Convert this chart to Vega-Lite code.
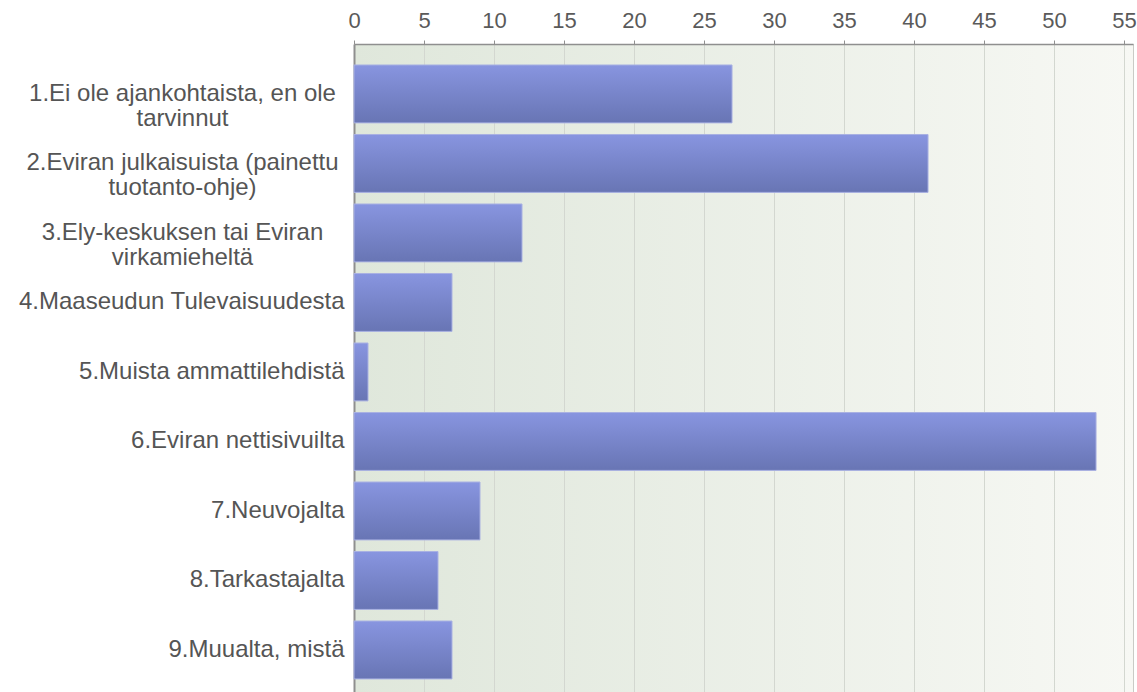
{
  "$schema": "https://vega.github.io/schema/vega-lite/v6.json",
  "width": 779,
  "height": 648,
  "autosize": "none",
  "padding": {"left": 354, "top": 44, "right": 4, "bottom": 0},
  "background": "white",
  "config": {
    "view": {
      "fill": {"gradient": "linear", "x1": 0, "y1": 0, "x2": 1, "y2": 0, "stops": [{"offset": 0, "color": "#dfe7db"}, {"offset": 1, "color": "#f7f8f4"}]},
      "stroke": "#c9cbc6"
    }
  },
  "data": {
    "values": [
      {"source": "1.Ei ole ajankohtaista, en ole tarvinnut", "count": 27},
      {"source": "2.Eviran julkaisuista (painettu tuotanto-ohje)", "count": 41},
      {"source": "3.Ely-keskuksen tai Eviran virkamieheltä", "count": 12},
      {"source": "4.Maaseudun Tulevaisuudesta", "count": 7},
      {"source": "5.Muista ammattilehdistä", "count": 1},
      {"source": "6.Eviran nettisivuilta", "count": 53},
      {"source": "7.Neuvojalta", "count": 9},
      {"source": "8.Tarkastajalta", "count": 6},
      {"source": "9.Muualta, mistä", "count": 7}
    ]
  },
  "mark": {
    "type": "bar",
    "color": {"gradient": "linear", "x1": 0, "y1": 0, "x2": 0, "y2": 1, "stops": [{"offset": 0, "color": "#8895e0"}, {"offset": 1, "color": "#6875b4"}]},
    "stroke": "#a9b1e2",
    "strokeWidth": 1
  },
  "encoding": {
    "y": {
      "field": "source",
      "type": "nominal",
      "sort": null,
      "scale": {"paddingInner": 0.167, "paddingOuter": 0.245, "align": 0.616},
      "axis": {
        "title": null,
        "ticks": false,
        "domainColor": "#8f8f8f",
        "domainWidth": 2,
        "labelFont": "Liberation Sans",
        "labelFontSize": 24,
        "labelColor": "#555555",
        "labelLineHeight": 25,
        "labelLimit": 400,
        "labelExpr": "datum.value == '1.Ei ole ajankohtaista, en ole tarvinnut' ? ['1.Ei ole ajankohtaista, en ole', 'tarvinnut'] : datum.value == '2.Eviran julkaisuista (painettu tuotanto-ohje)' ? ['2.Eviran julkaisuista (painettu', 'tuotanto-ohje)'] : datum.value == '3.Ely-keskuksen tai Eviran virkamieheltä' ? ['3.Ely-keskuksen tai Eviran', 'virkamieheltä'] : datum.value",
        "labelAlign": {"condition": {"test": "length(datum.value) > 30", "value": "center"}, "value": "right"},
        "labelPadding": {"condition": {"test": "length(datum.value) > 30", "value": 172}, "value": 10}
      }
    },
    "x": {
      "field": "count",
      "type": "quantitative",
      "scale": {"domain": [0, 55.64], "nice": false},
      "axis": {
        "orient": "top",
        "title": null,
        "values": [0, 5, 10, 15, 20, 25, 30, 35, 40, 45, 50, 55],
        "grid": true,
        "gridColor": "#d3d7d0",
        "gridWidth": 1,
        "domainColor": "#8f8f8f",
        "domainWidth": 1.5,
        "tickColor": "#8f8f8f",
        "tickSize": 4,
        "labelFont": "Liberation Sans",
        "labelFontSize": 22,
        "labelColor": "#5a5a5a",
        "labelPadding": 8,
        "labelFlush": false
      }
    }
  }
}
